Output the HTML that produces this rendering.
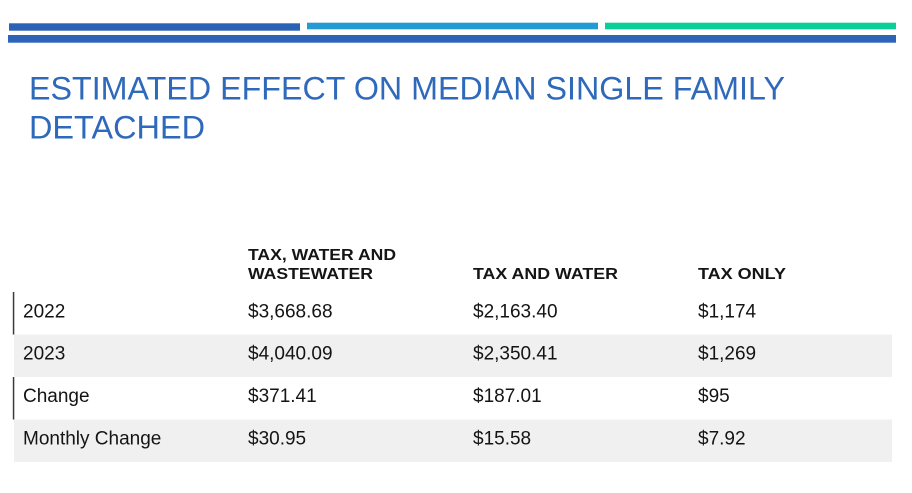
<!DOCTYPE html>
<html>
<head>
<meta charset="utf-8">
<style>
  html, body { margin: 0; padding: 0; background: #ffffff; }
  body { width: 912px; height: 493px; overflow: hidden; }
  svg { display: block; }
  .title { font-family: "Liberation Sans", sans-serif; font-size: 32px; fill: #2f69bb; }
  .hdr { font-family: "Liberation Sans", sans-serif; font-size: 15.5px; font-weight: bold; fill: #151515; }
  .cell { font-family: "Liberation Sans", sans-serif; font-size: 19px; fill: #141414; }
</style>
</head>
<body>
<svg width="912" height="493" viewBox="0 0 912 493" xmlns="http://www.w3.org/2000/svg">
  <!-- top decorative bars -->
  <rect x="9" y="23.3" width="291" height="7.4" fill="#2c62b6"/>
  <rect x="307" y="22.7" width="291" height="6.6" fill="#229ad4"/>
  <rect x="605" y="22.7" width="291" height="6.6" fill="#0acf97"/>
  <rect x="8" y="35" width="888" height="7.7" fill="#2d63b8"/>

  <!-- title -->
  <text class="title" x="29" y="99.5" textLength="756" lengthAdjust="spacingAndGlyphs">ESTIMATED EFFECT ON MEDIAN SINGLE FAMILY</text>
  <text class="title" x="29" y="138.5" textLength="176" lengthAdjust="spacingAndGlyphs">DETACHED</text>

  <!-- table headers -->
  <text class="hdr" x="248" y="260" textLength="148" lengthAdjust="spacingAndGlyphs">TAX, WATER AND</text>
  <text class="hdr" x="248" y="279" textLength="125" lengthAdjust="spacingAndGlyphs">WASTEWATER</text>
  <text class="hdr" x="473" y="279" textLength="145" lengthAdjust="spacingAndGlyphs">TAX AND WATER</text>
  <text class="hdr" x="698" y="279" textLength="88" lengthAdjust="spacingAndGlyphs">TAX ONLY</text>

  <!-- row backgrounds -->
  <rect x="14" y="334.5" width="878" height="42.5" fill="#f0f0f0"/>
  <rect x="14" y="419.5" width="878" height="42.5" fill="#f0f0f0"/>
  <!-- left vertical markers -->
  <rect x="12.8" y="292" width="1.5" height="42.5" fill="#3a3a3a"/>
  <rect x="12.8" y="377" width="1.5" height="42.5" fill="#3a3a3a"/>

  <!-- row 1 -->
  <text class="cell" x="23" y="317.5">2022</text>
  <text class="cell" x="248" y="317.5">$3,668.68</text>
  <text class="cell" x="473" y="317.5">$2,163.40</text>
  <text class="cell" x="698" y="317.5">$1,174</text>

  <!-- row 2 -->
  <text class="cell" x="23" y="359.5">2023</text>
  <text class="cell" x="248" y="359.5">$4,040.09</text>
  <text class="cell" x="473" y="359.5">$2,350.41</text>
  <text class="cell" x="698" y="359.5">$1,269</text>

  <!-- row 3 -->
  <text class="cell" x="23" y="402">Change</text>
  <text class="cell" x="248" y="402">$371.41</text>
  <text class="cell" x="473" y="402">$187.01</text>
  <text class="cell" x="698" y="402">$95</text>

  <!-- row 4 -->
  <text class="cell" x="23" y="444.5">Monthly Change</text>
  <text class="cell" x="248" y="444.5">$30.95</text>
  <text class="cell" x="473" y="444.5">$15.58</text>
  <text class="cell" x="698" y="444.5">$7.92</text>
</svg>
</body>
</html>
